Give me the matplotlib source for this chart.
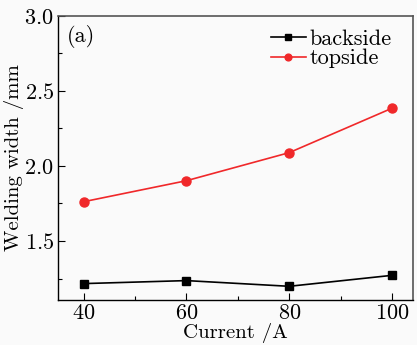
import matplotlib
matplotlib.use("Agg")
import matplotlib.pyplot as plt
from matplotlib.ticker import MultipleLocator

plt.rcParams['font.family'] = ['cmr10', 'DejaVu Serif']
plt.rcParams['axes.formatter.use_mathtext'] = True

current = [40, 60, 80, 100]
backside = [1.216, 1.236, 1.198, 1.271]
topside = [1.762, 1.902, 2.089, 2.385]

fig = plt.figure(figsize=(4.17, 3.45), dpi=100)
fig.patch.set_facecolor('#fafafa')
ax = fig.add_axes([58/417, 1 - 299.5/345, (412.5-58)/417, (299.5-16)/345])
ax.set_facecolor('#fafafa')

ax.plot(current, backside, color='black', marker='s', ms=6, lw=1.2, label='backside')
ax.plot(current, topside, color='#f0282a', marker='o', ms=6.5, lw=1.2, label='topside')

ax.set_xlim(35, 104)
ax.set_ylim(1.11, 3.0)
ax.set_xticks(current)
ax.xaxis.set_minor_locator(MultipleLocator(10))
ax.set_yticks([1.5, 2.0, 2.5, 3.0])
ax.yaxis.set_minor_locator(MultipleLocator(0.25))
ax.tick_params(direction='in', labelsize=16, length=5, width=0.8, pad=3)
ax.tick_params(which='minor', direction='in', length=3, width=0.8)
for s in ['top', 'right']:
    ax.spines[s].set_color('#555555')
    ax.spines[s].set_linewidth(1.2)
for s in ['left', 'bottom']:
    ax.spines[s].set_linewidth(1.0)

ax.set_xlabel('Current /A', fontsize=15, va='center')
ax.xaxis.set_label_coords(0.5, -0.118)
ax.set_ylabel('Welding width /mm', fontsize=15, va='center')
ax.yaxis.set_label_coords(-0.125, 0.5)
ax.text(0.025, 0.97, '(a)', transform=ax.transAxes, fontsize=16, va='top', ha='left')
ax.legend(loc='upper right', bbox_to_anchor=(0.98, 1.0), frameon=False, fontsize=16,
          handlelength=1.55, handletextpad=0.2, labelspacing=0.0, borderaxespad=0.2,
          markerscale=0.75)

fig.savefig('out.png', dpi=100, facecolor=fig.get_facecolor())
